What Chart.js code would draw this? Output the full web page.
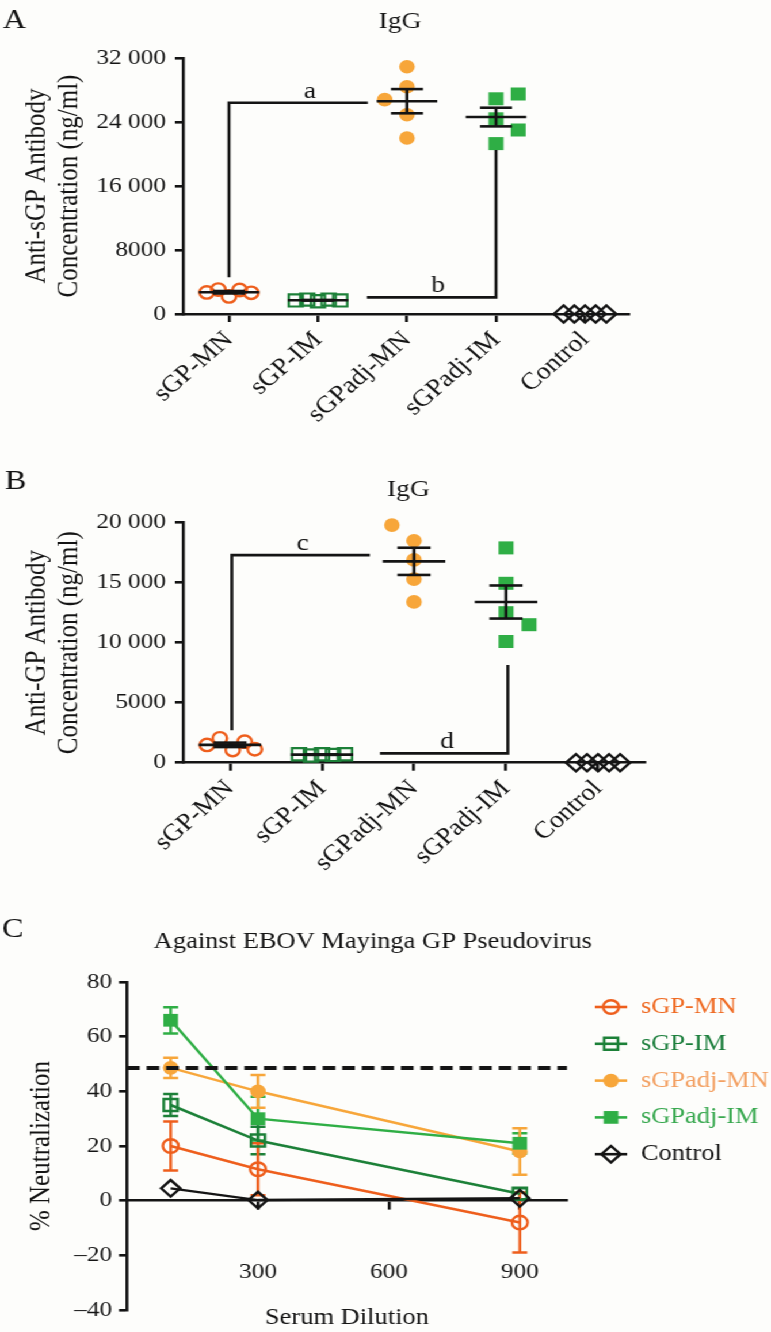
<!DOCTYPE html>
<html>
<head>
<meta charset="utf-8">
<title>Anti-sGP / anti-GP IgG and neutralization</title>
<script src="https://cdn.jsdelivr.net/npm/chart.js@4.4.1/dist/chart.umd.min.js"></script>
<style>
  html, body { margin:0; padding:0; background:#fdfdfb; }
  #stage { position:relative; width:670px; height:1332px; transform:scaleX(1.1507); transform-origin:0 0; }
  #stage canvas { position:absolute; left:0; }
</style>
</head>
<body>
<div id="stage">
  <canvas id="panelA" width="670" height="470" style="top:0px"></canvas>
  <canvas id="panelB" width="670" height="430" style="top:470px"></canvas>
  <canvas id="panelC" width="670" height="452" style="top:880px"></canvas>
</div>
<script>
// ---------------- data ----------------
const groups = ['sGP-MN', 'sGP-IM', 'sGPadj-MN', 'sGPadj-IM', 'Control'];

// Panel A: anti-sGP IgG (ng/ml), one value per animal
const sgpIgG_sGPMN   = [2700, 3050, 2200, 3000, 2650];
const sgpIgG_sGPIM   = [1700, 1800, 1600, 1800, 1700];
const sgpIgG_adjMN   = [30900, 28400, 26800, 24900, 22000];
const sgpIgG_adjIM   = [27500, 26900, 24400, 23000, 21300];
const sgpIgG_control = [0, 0, 0, 0, 0];
const sgpIgGTicks    = [0, 8000, 16000, 24000, 32000];

// Panel B: anti-GP IgG (ng/ml)
const gpIgG_sGPMN   = [1480, 2030, 1060, 1750, 1120];
const gpIgG_sGPIM   = [700, 600, 700, 650, 700];
const gpIgG_adjMN   = [19800, 18500, 16900, 15300, 13400];
const gpIgG_adjIM   = [17900, 14950, 12500, 11500, 10100];
const gpIgG_control = [0, 0, 0, 0, 0];
const gpIgGTicks    = [0, 5000, 10000, 15000, 20000];

// significance brackets (group index, value)
const bracketsA = [
  { label: 'a', path: [[0, 4600], [0, 26400], [1.56, 26400]], labelAt: [0.91, 26400] },
  { label: 'b', path: [[1.55, 2080], [3, 2080], [3, 20500]], labelAt: [2.35, 2080] }
];
const bracketsB = [
  { label: 'c', path: [[0.02, 2700], [0.02, 17300], [1.52, 17300]], labelAt: [0.79, 17300] },
  { label: 'd', path: [[1.63, 780], [3.02, 780], [3.02, 8150]], labelAt: [2.36, 780] }
];

// Panel C: % neutralization vs serum dilution (mean, SEM)
const dilutions        = [100, 300, 900];
const neut_sGPMN       = [20, 11.5, -8];
const neutSem_sGPMN    = [9, 9.5, 11];
const neut_sGPIM       = [35, 22, 2.5];
const neutSem_sGPIM    = [4, 5, 2];
const neut_adjMN       = [48.6, 40, 18];
const neutSem_adjMN    = [3.7, 6, 8.5];
const neut_adjIM       = [66, 30, 21];
const neutSem_adjIM    = [4.8, 8, 3.7];
const neut_control     = [4.5, 0.2, 0.9];
const neutSem_control  = [0, 0, 0];
const neutTicksY       = [-40, -20, 0, 20, 40, 60, 80];
const dilutionTicks    = [300, 600, 900];
const neutThreshold    = 48.5;

// ---------------- styles ----------------
const SERIF = '"Liberation Serif", "Times New Roman", Times, serif';
const INK = '#141414';
const NONE = 'rgba(0,0,0,0)';
const COL = { sgpMN: '#ee5e1c', sgpIM: '#1c8038', adjMN: '#f7a63a', adjIM: '#2fae45', control: INK };
const TEXTCOL = { sgpMN: '#ef6a22', sgpIM: '#1b7e3c', adjMN: '#f3a062', adjIM: '#38a84f', control: INK };

const SPREAD5 = [-0.25, -0.12, 0, 0.12, 0.25];
const spreadA = [SPREAD5, SPREAD5, [0, 0, -0.25, 0, 0], [0.25, 0, 0, 0.25, 0], [-0.24, -0.12, 0, 0.12, 0.24]];
const spreadB = [[-0.25, -0.11, 0.03, 0.16, 0.27], SPREAD5, [-0.24, 0, 0, 0, 0], [0, 0, 0, 0.25, 0], [-0.24, -0.12, 0, 0.12, 0.24]];

const markers = [
  { pointStyle: 'circle',  radius: 6.2, bg: NONE,      border: COL.sgpMN, bw: 2.4 },
  { pointStyle: 'rect',    radius: 8.6, bg: NONE,      border: COL.sgpIM, bw: 2.2 },
  { pointStyle: 'circle',  radius: 6.8, bg: COL.adjMN, border: COL.adjMN, bw: 0 },
  { pointStyle: 'rect',    radius: 9.2, bg: COL.adjIM, border: COL.adjIM, bw: 0 },
  { pointStyle: 'rectRot', radius: 8.6, bg: NONE,      border: INK,       bw: 2.4 }
];

// ---------------- plugins ----------------
const summaryPlugin = {
  id: 'summary',
  afterDatasetsDraw(chart, args, opts) {
    const { ctx, scales: { x, y } } = chart;
    ctx.save();
    ctx.strokeStyle = INK; ctx.lineWidth = 2.6; ctx.lineCap = 'butt';
    const seg = (x1, y1, x2, y2) => {
      ctx.beginPath();
      ctx.moveTo(x.getPixelForValue(x1), y.getPixelForValue(y1));
      ctx.lineTo(x.getPixelForValue(x2), y.getPixelForValue(y2));
      ctx.stroke();
    };
    chart.data.datasets.forEach(ds => {
      if (!ds.summary) return;
      const v = ds.rawValues, n = v.length;
      const mean = v.reduce((a, b) => a + b, 0) / n;
      const sd = Math.sqrt(v.reduce((a, b) => a + (b - mean) ** 2, 0) / (n - 1));
      const sem = sd / Math.sqrt(n);
      const g = ds.group;
      seg(g - opts.meanHalf, mean, g + opts.meanHalf, mean);
      seg(g, mean - sem, g, mean + sem);
      seg(g - opts.capHalf, mean + sem, g + opts.capHalf, mean + sem);
      seg(g - opts.capHalf, mean - sem, g + opts.capHalf, mean - sem);
    });
    ctx.restore();
  }
};

const bracketPlugin = {
  id: 'brackets',
  afterDatasetsDraw(chart, args, opts) {
    const { ctx, scales: { x, y } } = chart;
    ctx.save();
    ctx.strokeStyle = INK; ctx.lineWidth = 2.6; ctx.lineJoin = 'miter';
    (opts.items || []).forEach(b => {
      ctx.beginPath();
      b.path.forEach(([px, py], k) => {
        const X = x.getPixelForValue(px), Y = y.getPixelForValue(py);
        if (k) ctx.lineTo(X, Y); else ctx.moveTo(X, Y);
      });
      ctx.stroke();
      ctx.fillStyle = INK;
      ctx.font = `24px ${SERIF}`;
      ctx.textAlign = 'center';
      ctx.textBaseline = 'alphabetic';
      ctx.fillText(b.label, x.getPixelForValue(b.labelAt[0]), y.getPixelForValue(b.labelAt[1]) - opts.gap);
    });
    ctx.restore();
  }
};

const textPlugin = {
  id: 'panelText',
  afterDraw(chart, args, opts) {
    const ctx = chart.ctx;
    ctx.save();
    (opts.items || []).forEach(t => {
      ctx.font = `${t.size}px ${SERIF}`;
      ctx.fillStyle = t.color || INK;
      ctx.textAlign = t.align || 'left';
      ctx.textBaseline = 'alphabetic';
      ctx.fillText(t.text, t.x, t.y);
    });
    ctx.restore();
  }
};

const errorBarPlugin = {
  id: 'errorBars',
  beforeDatasetsDraw(chart, args, opts) {
    const { ctx, scales: { x, y } } = chart;
    ctx.save();
    ctx.lineWidth = opts.width;
    chart.data.datasets.forEach(ds => {
      if (!ds.errors) return;
      ctx.strokeStyle = ds.borderColor;
      ds.data.forEach((p, k) => {
        const e = ds.errors[k];
        if (!e) return;
        const X = x.getPixelForValue(p.x);
        const y1 = y.getPixelForValue(p.y + e), y2 = y.getPixelForValue(p.y - e);
        ctx.beginPath();
        ctx.moveTo(X, y1); ctx.lineTo(X, y2);
        ctx.moveTo(X - opts.cap, y1); ctx.lineTo(X + opts.cap, y1);
        ctx.moveTo(X - opts.cap, y2); ctx.lineTo(X + opts.cap, y2);
        ctx.stroke();
      });
    });
    ctx.restore();
  }
};

const sideLegendPlugin = {
  id: 'sideLegend',
  afterDraw(chart, args, opts) {
    const ctx = chart.ctx;
    const items = chart.data.datasets.filter(d => d.legendOrder !== undefined)
      .sort((a, b) => a.legendOrder - b.legendOrder);
    ctx.save();
    items.forEach((ds, k) => {
      const cy = opts.top + k * opts.step;
      const cx = (opts.lineFrom + opts.lineTo) / 2;
      ctx.strokeStyle = ds.borderColor; ctx.lineWidth = 2.6;
      ctx.beginPath(); ctx.moveTo(opts.lineFrom, cy); ctx.lineTo(opts.lineTo, cy); ctx.stroke();
      ctx.fillStyle = ds.pointBackgroundColor;
      ctx.strokeStyle = ds.pointBorderColor;
      ctx.lineWidth = ds.pointBorderWidth;
      Chart.helpers.drawPoint(ctx, { pointStyle: ds.pointStyle, rotation: 0, radius: ds.pointRadius, borderWidth: ds.pointBorderWidth }, cx, cy);
      ctx.fillStyle = ds.legendTextColor;
      ctx.font = `${opts.fontSize}px ${SERIF}`;
      ctx.textAlign = 'left'; ctx.textBaseline = 'middle';
      ctx.fillText(ds.label, opts.textX, cy);
    });
    ctx.restore();
  }
};

const fmtThousands = v => v >= 10000 ? `${Math.floor(v / 1000)} ${String(v % 1000).padStart(3, '0')}` : String(v);

const axisGrid = len => ({ display: true, drawOnChartArea: false, drawTicks: true, tickLength: len, tickWidth: 2.6, tickColor: INK, color: INK, lineWidth: 2.6 });
const axisBorder = { display: true, color: INK, width: 2.6 };

// ---------------- dot-plot panels (A, B) ----------------
function dotPanel(canvasId, series, spread, cfg) {
  const datasets = series.map((vals, g) => ({
    label: groups[g],
    data: vals.map((v, k) => ({ x: g + spread[g][k], y: v })),
    rawValues: vals,
    group: g,
    summary: g !== 4,
    clip: false,
    pointStyle: markers[g].pointStyle,
    pointRadius: markers[g].radius,
    pointHoverRadius: markers[g].radius,
    pointBackgroundColor: markers[g].bg,
    pointBorderColor: markers[g].border,
    pointBorderWidth: markers[g].bw,
    backgroundColor: markers[g].bg,
    borderColor: markers[g].border
  }));
  return new Chart(document.getElementById(canvasId), {
    type: 'scatter',
    data: { datasets },
    options: {
      responsive: false, animation: false, devicePixelRatio: 1, events: [],
      layout: { padding: cfg.padding },
      plugins: {
        legend: { display: false }, tooltip: { enabled: false },
        summary: { meanHalf: 0.34, capHalf: 0.18 },
        brackets: { items: cfg.brackets, gap: 5 },
        panelText: { items: cfg.texts }
      },
      scales: {
        x: {
          type: 'linear', min: cfg.xMin, max: cfg.xMax,
          afterBuildTicks: s => { s.ticks = groups.map((_, i) => ({ value: i })); },
          afterFit: s => { s.height = cfg.xHeight; },
          ticks: { callback: v => groups[v], autoSkip: false, minRotation: 45, maxRotation: 45, padding: 4, color: INK, font: { family: SERIF, size: 24 } },
          grid: axisGrid(8), border: axisBorder
        },
        y: {
          min: 0, max: cfg.yMax,
          afterBuildTicks: s => { s.ticks = cfg.yTicks.map(v => ({ value: v })); },
          afterFit: s => { s.width = cfg.yWidth; },
          ticks: { callback: fmtThousands, padding: 7.7, color: INK, font: { family: SERIF, size: 22 } },
          grid: axisGrid(7), border: axisBorder,
          title: { display: true, text: cfg.yTitle, color: INK, font: { family: SERIF, size: 25, lineHeight: 1.15 }, padding: { top: 17.8, bottom: 0 } }
        }
      }
    },
    plugins: [summaryPlugin, bracketPlugin, textPlugin]
  });
}

dotPanel('panelA',
  [sgpIgG_sGPMN, sgpIgG_sGPIM, sgpIgG_adjMN, sgpIgG_adjIM, sgpIgG_control], spreadA,
  {
    padding: { top: 58, right: 123.4, left: 0, bottom: 0 },
    xMin: -0.517, xMax: 4.494, xHeight: 156, yWidth: 159,
    yMax: 32000, yTicks: sgpIgGTicks,
    yTitle: ['Anti-sGP Antibody', 'Concentration (ng/ml)'],
    brackets: bracketsA,
    texts: [
      { text: 'A', x: 2.6, y: 28, size: 28 },
      { text: 'IgG', x: 347.6, y: 28, size: 24, align: 'center' }
    ]
  });

dotPanel('panelB',
  [gpIgG_sGPMN, gpIgG_sGPIM, gpIgG_adjMN, gpIgG_adjIM, gpIgG_control], spreadB,
  {
    padding: { top: 52.7, right: 109.5, left: 0, bottom: 0 },
    xMin: -0.511, xMax: 4.51, xHeight: 137.3, yWidth: 159,
    yMax: 20000, yTicks: gpIgGTicks,
    yTitle: ['Anti-GP Antibody', 'Concentration (ng/ml)'],
    brackets: bracketsB,
    texts: [
      { text: 'B', x: 4.3, y: 19, size: 28 },
      { text: 'IgG', x: 355, y: 26, size: 24, align: 'center' }
    ]
  });

// ---------------- neutralization panel (C) ----------------
const neutSeries = [
  { key: 'sgpMN',   label: 'sGP-MN',    values: neut_sGPMN,   sem: neutSem_sGPMN,   style: 'circle',  radius: 6.8, filled: false, order: 0 },
  { key: 'sgpIM',   label: 'sGP-IM',    values: neut_sGPIM,   sem: neutSem_sGPIM,   style: 'rect',    radius: 8.5, filled: false, order: 1 },
  { key: 'adjMN',   label: 'sGPadj-MN', values: neut_adjMN,   sem: neutSem_adjMN,   style: 'circle',  radius: 6.8, filled: true,  order: 2 },
  { key: 'adjIM',   label: 'sGPadj-IM', values: neut_adjIM,   sem: neutSem_adjIM,   style: 'rect',    radius: 9,   filled: true,  order: 3 },
  { key: 'control', label: 'Control',   values: neut_control, sem: neutSem_control, style: 'rectRot', radius: 8.3, filled: false, order: 4 }
];

const neutDatasets = neutSeries.slice().reverse().map(s => ({
  label: s.label,
  data: dilutions.map((d, k) => ({ x: d, y: s.values[k] })),
  errors: s.sem,
  legendOrder: s.order,
  legendTextColor: TEXTCOL[s.key],
  showLine: true, tension: 0, clip: false,
  borderColor: COL[s.key], borderWidth: 2.5,
  backgroundColor: s.filled ? COL[s.key] : NONE,
  pointStyle: s.style, pointRadius: s.radius, pointHoverRadius: s.radius,
  pointBackgroundColor: s.filled ? COL[s.key] : NONE,
  pointBorderColor: COL[s.key],
  pointBorderWidth: s.filled ? 0 : 2.4
}));

const thresholdDataset = {
  label: 'threshold',
  data: [{ x: 0, y: neutThreshold }, { x: 1008, y: neutThreshold }],
  showLine: true, clip: false,
  borderColor: INK, borderWidth: 4, borderDash: [11, 6],
  pointRadius: 0, pointHoverRadius: 0
};

new Chart(document.getElementById('panelC'), {
  type: 'scatter',
  data: { datasets: [thresholdDataset].concat(neutDatasets) },
  options: {
    responsive: false, animation: false, devicePixelRatio: 1, events: [],
    layout: { padding: { top: 102, right: 177.3, left: 0, bottom: 22 } },
    plugins: {
      legend: { display: false }, tooltip: { enabled: false },
      errorBars: { width: 2.5, cap: 6.5 },
      sideLegend: { top: 127, step: 36.8, lineFrom: 517, lineTo: 545, textX: 557, fontSize: 23 },
      panelText: { items: [
        { text: 'C', x: 1.7, y: 57, size: 28 },
        { text: 'Against EBOV Mayinga GP Pseudovirus', x: 324, y: 68, size: 23, align: 'center' }
      ] }
    },
    scales: {
      x: {
        type: 'linear', min: 0, max: 1008, position: { y: 0 },
        afterBuildTicks: s => { s.ticks = dilutionTicks.map(v => ({ value: v })); },
        afterFit: s => { s.height = 130.8; },
        ticks: { padding: 50, minRotation: 0, maxRotation: 0, color: INK, font: { family: SERIF, size: 22 } },
        grid: axisGrid(8), border: axisBorder,
        title: { display: true, text: 'Serum Dilution', color: INK, font: { family: SERIF, size: 23 }, padding: 0 }
      },
      y: {
        min: -40, max: 80,
        afterBuildTicks: s => { s.ticks = neutTicksY.map(v => ({ value: v })); },
        afterFit: s => { s.width = 110.4; },
        ticks: { callback: v => v < 0 ? '\u2013' + (-v) : String(v), padding: 6, color: INK, font: { family: SERIF, size: 22 } },
        grid: axisGrid(7), border: axisBorder,
        title: { display: true, text: '% Neutralization', color: INK, font: { family: SERIF, size: 25, lineHeight: 1.2 }, padding: { top: 21.5, bottom: 0 } }
      }
    }
  },
  plugins: [errorBarPlugin, sideLegendPlugin, textPlugin]
});
</script>
</body>
</html>
